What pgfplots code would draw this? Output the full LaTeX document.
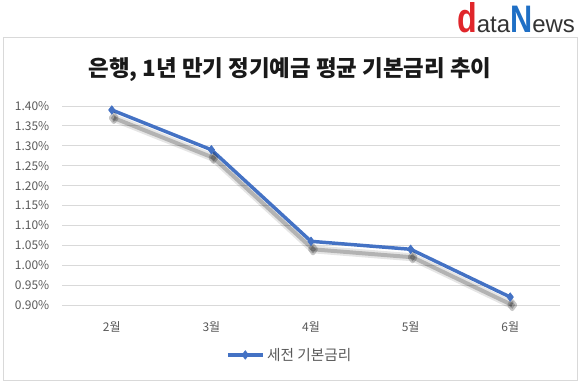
\documentclass[border=0pt]{standalone}
\usepackage{fontspec}
\setmainfont{Noto Sans CJK KR}
\newfontfamily\logofont{Liberation Sans}
\usepackage{pgfplots}
\pgfplotsset{compat=1.18}
\definecolor{lineblue}{HTML}{4472C4}
\definecolor{gridgray}{HTML}{D9D9D9}
\definecolor{ticktext}{HTML}{595959}
\definecolor{logored}{HTML}{E0262B}
\definecolor{logoblue}{HTML}{1F6FC5}
\definecolor{logotext}{HTML}{333333}
\begin{document}
\begin{tikzpicture}
\path[use as bounding box] (0,0) rectangle (435pt,291.75pt);
\draw[gridgray, line width=0.75pt] (2.25pt,6.75pt) rectangle (432.75pt,263.25pt);
\node[anchor=base, inner sep=0pt] at (387pt,267pt) {\logofont
  {\color{logored}\bfseries\scalebox{1.05}[1.35]{\fontsize{23}{23}\selectfont d}}%
  {\color{logotext}\fontsize{18}{18}\selectfont ata}%
  {\color{logoblue}\bfseries\scalebox{1}[1.25]{\fontsize{23}{23}\selectfont N}}%
  {\color{logotext}\fontsize{18}{18}\selectfont ews}};
\node[anchor=center, inner sep=0pt, text=black!90] at (217.5pt,239.25pt)
  {\bfseries\fontsize{16.8}{20}\selectfont 은행, 1년 만기 정기예금 평균 기본금리 추이};
\begin{axis}[
  at={(46.5pt,63pt)}, anchor=south west,
  scale only axis, width=373.5pt, height=149.25pt,
  xmin=-0.5, xmax=4.5, ymin=0.9, ymax=1.4,
  xtick={0,1,2,3,4}, xticklabels={2월,3월,4월,5월,6월},
  ytick={0.9,0.95,1.0,1.05,1.1,1.15,1.2,1.25,1.3,1.35,1.4},
  yticklabel={\pgfmathprintnumber[fixed,fixed zerofill,precision=2,assume math mode=true]{\tick}\%},
  ymajorgrids, grid style={gridgray, line width=0.75pt},
  axis x line*=bottom, axis y line*=left,
  x axis line style={gridgray, line width=0.75pt, -},
  y axis line style={draw=none},
  major tick length=0pt,
  tick label style={ticktext, font=\fontsize{9}{10}\selectfont},
  yticklabel style={xshift=-6pt},
  xticklabel style={yshift=-9pt},
  clip=false,
  legend style={at={(0.458,-0.251)}, anchor=center, draw=none, fill=none,
    font=\fontsize{11}{13}\selectfont, text=ticktext},
  legend image code/.code={
    \draw[#1, mark repeat=2, mark phase=2] plot coordinates {(0pt,0pt) (13pt,0pt) (26pt,0pt)};},
]
\addplot[forget plot, black, opacity=0.10, line width=6pt, shift={(1.5pt,-6pt)}, line join=round]
  coordinates {(0,1.39) (1,1.29) (2,1.06) (3,1.04) (4,0.92)};
\addplot[forget plot, black, opacity=0.22, line width=3pt, shift={(1.5pt,-6pt)}, line join=round,
  mark=diamond*, mark size=3pt]
  coordinates {(0,1.39) (1,1.29) (2,1.06) (3,1.04) (4,0.92)};
\addplot[lineblue, line width=2.6pt, line join=round, mark=diamond*, mark size=3.2pt,
  mark options={solid, fill=lineblue, line width=0.5pt}]
  coordinates {(0,1.39) (1,1.29) (2,1.06) (3,1.04) (4,0.92)};
\addlegendentry{세전 기본금리}
\end{axis}
\end{tikzpicture}
\end{document}
